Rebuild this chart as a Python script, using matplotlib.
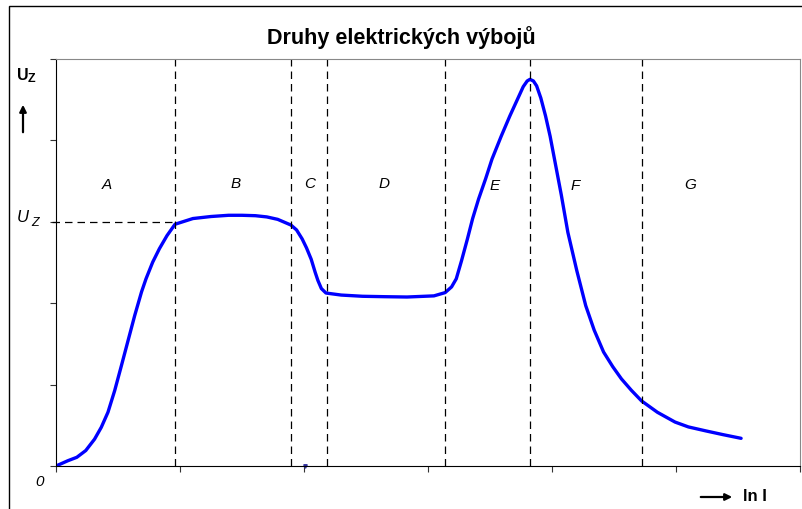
import numpy as np
import matplotlib
matplotlib.use('Agg')
import matplotlib.pyplot as plt
from matplotlib.patches import Rectangle, FancyArrowPatch

plt.rcParams['font.family'] = ['Liberation Sans', 'DejaVu Sans']

# curve (x = ln I, y = U_z, arbitrary units)
x_curve = [0.0, 0.096, 0.168, 0.24, 0.311, 0.365, 0.419, 0.473, 0.527, 0.581, 0.635,
           0.69, 0.726, 0.78, 0.834, 0.895, 0.96, 1.104, 1.25, 1.392, 1.5,
           1.608, 1.7, 1.788, 1.895, 1.94, 1.985, 2.02, 2.058, 2.09, 2.112, 2.14, 2.177,
           2.3, 2.472, 2.65, 2.831, 3.048, 3.138, 3.19, 3.228, 3.27, 3.318, 3.36, 3.408,
           3.465, 3.516, 3.59, 3.66, 3.72, 3.768, 3.80, 3.822, 3.85, 3.876, 3.91, 3.948,
           3.985, 4.02, 4.075, 4.128, 4.2, 4.272, 4.34, 4.416, 4.49, 4.56, 4.64, 4.722,
           4.85, 4.992, 5.1, 5.244, 5.38, 5.525]
y_curve = [0.0, 0.065, 0.107, 0.19, 0.33, 0.475, 0.66, 0.925, 1.23, 1.54, 1.85,
           2.14, 2.30, 2.505, 2.67, 2.83, 2.97, 3.04, 3.065, 3.08, 3.08,
           3.075, 3.06, 3.03, 2.96, 2.9, 2.79, 2.68, 2.54, 2.38, 2.28, 2.18, 2.125,
           2.1, 2.085, 2.08, 2.076, 2.09, 2.13, 2.2, 2.30, 2.52, 2.79, 3.04, 3.28,
           3.53, 3.77, 4.05, 4.30, 4.50, 4.66, 4.73, 4.75, 4.73, 4.67, 4.52, 4.30,
           4.05, 3.77, 3.33, 2.87, 2.4, 1.97, 1.67, 1.40, 1.22, 1.07, 0.93, 0.80,
           0.66, 0.54, 0.48, 0.43, 0.385, 0.34]

borders = [0.96, 1.895, 2.184, 3.138, 3.822, 4.722]
regions = ['A', 'B', 'C', 'D', 'E', 'F', 'G']
region_x = [0.41, 1.446, 2.047, 2.645, 3.534, 4.19, 5.118]
region_y = [3.46, 3.48, 3.48, 3.48, 3.45, 3.45, 3.46]
uz_level = 3.0

fig = plt.figure(figsize=(8.03, 5.10), dpi=100)
ax = fig.add_axes([56/803, 43/510, 744/803, 407/510])

ax.plot(x_curve, y_curve, color='#0000ff', lw=2.4, solid_capstyle='round',
        solid_joinstyle='round')
ax.plot([2.006], [0.0], marker='v', color='#3030a0', ms=2.5, clip_on=False)

dash = (0, (6, 4))
for b in borders:
    ax.axvline(b, color='k', lw=0.9, ls=dash)
ax.plot([-0.03, borders[0]], [uz_level, uz_level], color='k', lw=0.9, ls=dash, clip_on=False)

for lab, xx, yy in zip(regions, region_x, region_y):
    ax.text(xx, yy, lab, style='italic', fontsize=11, ha='center', va='center')

ax.set_xlim(0, 6)
ax.set_ylim(0, 5)
ax.set_xticks(np.arange(0, 7))
ax.set_yticks(np.arange(0, 6))
ax.set_xticklabels([])
ax.set_yticklabels([])
ax.tick_params(length=4, width=0.8, color='#333333')
for s in ['top', 'right']:
    ax.spines[s].set_color('#888888')
for s in ['left', 'bottom']:
    ax.spines[s].set_color('black')

fig.text(0.5, 1 - 38/510, 'Druhy elektrických výbojů', ha='center', va='center',
         fontsize=15.5, fontweight='bold')
fig.text(17/803, 1 - 76/510, 'U', ha='left', va='center', fontsize=11.5, fontweight='bold')
fig.text(28/803, 1 - 79/510, 'Z', ha='left', va='center', fontsize=9, fontweight='bold')
fig.text(17/803, 1 - 218/510, 'U', style='italic', ha='left', va='center', fontsize=12)
fig.text(31/803, 1 - 223/510, 'Z', style='italic', ha='left', va='center', fontsize=9)
fig.text(40/803, 1 - 482/510, '0', style='italic', ha='center', va='center', fontsize=11)
fig.text(743/803, 1 - 497/510, 'ln I', ha='left', va='center', fontsize=12, fontweight='bold')
fig.add_artist(FancyArrowPatch((23/803, 1 - 136/510), (23/803, 1 - 103/510),
               transform=fig.transFigure, arrowstyle='-|>', mutation_scale=10, lw=1.6, color='k'))
fig.add_artist(FancyArrowPatch((698/803, 1 - 498/510), (735/803, 1 - 498/510),
               transform=fig.transFigure, arrowstyle='-|>', mutation_scale=10, lw=1.6, color='k'))

fig.add_artist(Rectangle((9/803, -0.01), 1.0, 1 - 7/510 + 0.01, transform=fig.transFigure,
                         fill=False, ec='black', lw=1.0))

fig.savefig('out.png', dpi=100)
